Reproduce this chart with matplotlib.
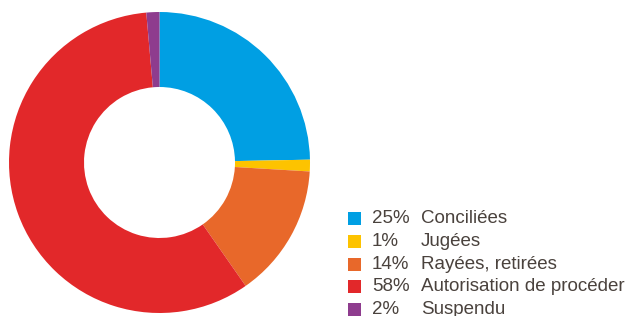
import matplotlib.pyplot as plt
from matplotlib.patches import Rectangle

# parts du donut et légende
categories = ["Conciliées", "Jugées", "Rayées, retirées", "Autorisation de procéder", "Suspendu"]
shares = [24.7, 1.25, 14.35, 58.3, 1.4]
pct_labels = ["25%", "1%", "14%", "58%", "2%"]
colors = ["#009fe3", "#fdc300", "#e8682a", "#e2282a", "#8e3c8e"]

W, H = 627, 316
fig = plt.figure(figsize=(W / 100, H / 100), dpi=100)
ax = fig.add_axes([0, 0, 1, 1])

cx, cy, r = 159.5, H - 162.5, 150.5
ax.pie(shares, colors=colors, startangle=90, counterclock=False,
       center=(cx, cy), radius=r,
       wedgeprops=dict(width=r - 75.5, linewidth=0))

ax.set_xlim(0, W)
ax.set_ylim(0, H)
ax.set_aspect("equal")
ax.axis("off")

# légende à droite
txt_color = "#4a423d"
y0, dy = H - 218.5, 22.8
for i, (lab, pct, c) in enumerate(zip(categories, pct_labels, colors)):
    y = y0 - i * dy
    ax.add_patch(Rectangle((348, y - 6.5), 13, 13, color=c, lw=0))
    ax.text(372, y, pct, fontsize=13.5, color=txt_color, va="center", ha="left",
            family="Liberation Sans")
    ax.text(421, y, lab, fontsize=13.5, color=txt_color, va="center", ha="left",
            family="Liberation Sans")

fig.savefig("out.png", dpi=100)
